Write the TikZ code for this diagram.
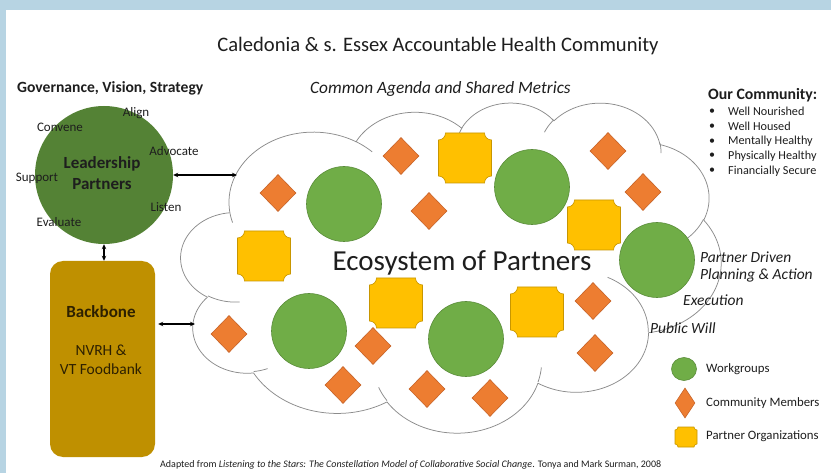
\documentclass[tikz,border=0pt]{standalone}
\usepackage{fontspec}
\setmainfont{Carlito}
\usetikzlibrary{arrows.meta,shapes.geometric}
\definecolor{bandblue}{RGB}{183,212,227}
\definecolor{leadgreen}{RGB}{84,130,53}
\definecolor{wggreen}{RGB}{112,173,71}
\definecolor{wgedge}{RGB}{90,140,58}
\definecolor{cmorange}{RGB}{237,125,49}
\definecolor{cmedge}{RGB}{200,100,40}
\definecolor{orgyellow}{RGB}{255,192,0}
\definecolor{orgedge}{RGB}{200,150,0}
\definecolor{bbgold}{RGB}{191,144,0}
\definecolor{cloudgray}{RGB}{140,140,140}
\definecolor{textdark}{RGB}{30,30,30}
\definecolor{bbtext}{RGB}{45,32,0}
\newcommand\fs[2]{\fontsize{#1}{#2}\selectfont}
% cloud frame (pixels) and path-space scale (path space 43.2 x 43.2)
\newcommand\cOX{181}\newcommand\cOY{102}
\newcommand\cSX{12.5}\newcommand\cSY{7.639}
\newcommand\CloudStart[2]{\pgfmathsetmacro\cPX{#1}\pgfmathsetmacro\cPY{#2}}
\newcommand\CloudArc[4]{%
  \pgfmathsetmacro\cA{#1}%
  \pgfmathsetmacro\cB{#2}%
  \pgfmathsetmacro\tS{atan2(#1*sin(#3),#2*cos(#3))}%
  \pgfmathsetmacro\tE{atan2(#1*sin(#3+#4),#2*cos(#3+#4))}%
  \pgfmathsetmacro\tD{\tE-\tS}%
  \pgfmathsetmacro\tD{\tD<0 ? \tD+360 : \tD}%
  \pgfmathsetmacro\tF{\tS+\tD}%
  \pgfmathsetmacro\cCX{\cPX-\cA*cos(\tS)}%
  \pgfmathsetmacro\cCY{\cPY-\cB*sin(\tS)}%
  \draw[cloudline] plot[domain=\tS:\tF,samples=40,variable=\cv]
    ({\cOX+\cSX*(\cCX+\cA*cos(\cv))},{\cOY+\cSY*(\cCY+\cB*sin(\cv))});
  \pgfmathsetmacro\cPX{\cCX+\cA*cos(\tF)}%
  \pgfmathsetmacro\cPY{\cCY+\cB*sin(\tF)}%
}
% plaque (rectangle with concave corners): cx cy w h r
\newcommand\Plaque[5]{%
  \pgfmathsetmacro\pxa{#1-#3/2}\pgfmathsetmacro\pxb{#1+#3/2}%
  \pgfmathsetmacro\pya{#2-#4/2}\pgfmathsetmacro\pyb{#2+#4/2}%
  \def\pr{#5}%
  \draw[orgshape] (\pxa+\pr,\pya) -- (\pxb-\pr,\pya)
    .. controls (\pxb-\pr,\pya+0.552*\pr) and (\pxb-0.552*\pr,\pya+\pr) .. (\pxb,\pya+\pr)
    -- (\pxb,\pyb-\pr)
    .. controls (\pxb-0.552*\pr,\pyb-\pr) and (\pxb-\pr,\pyb-0.552*\pr) .. (\pxb-\pr,\pyb)
    -- (\pxa+\pr,\pyb)
    .. controls (\pxa+\pr,\pyb-0.552*\pr) and (\pxa+0.552*\pr,\pyb-\pr) .. (\pxa,\pyb-\pr)
    -- (\pxa,\pya+\pr)
    .. controls (\pxa+0.552*\pr,\pya+\pr) and (\pxa+\pr,\pya+0.552*\pr) .. cycle;
}
\begin{document}
\begin{tikzpicture}[x=1pt,y=-1pt,
  cloudline/.style={draw=cloudgray,line width=0.75pt},
  wgshape/.style={circle,fill=wggreen,draw=wgedge,line width=0.6pt,inner sep=0pt,minimum size=75pt},
  cmshape/.style={diamond,fill=cmorange,draw=cmedge,line width=0.6pt,inner sep=0pt,minimum width=36pt,minimum height=37pt},
  orgshape/.style={fill=orgyellow,draw=orgedge,line width=0.6pt},
  connarrow/.style={{Stealth[length=5pt,width=4.5pt]}-{Stealth[length=5pt,width=4.5pt]},line width=1.3pt,black},
  lbl/.style={inner sep=0pt,text=textdark},
  rlbl/.style={lbl,anchor=west,font=\fs{15.5}{18}\itshape},
]
\useasboundingbox (0,0) rectangle (831,473);
\fill[white] (0,0) rectangle (831,473);
\fill[bandblue] (0,0) rectangle (831,10);
\fill[bandblue] (0,0) rectangle (6,473);

% ---------- cloud outline ----------
\CloudStart{3.9}{14.37}
\CloudArc{6.753}{9.190}{-190.4875}{123.7805}
\CloudArc{5.333}{7.267}{-144.1024}{89.9452}
\CloudArc{4.365}{5.945}{-145.8079}{99.7230}
\CloudArc{4.857}{6.595}{-130.9861}{117.2417}
\CloudArc{5.333}{7.273}{-78.7089}{109.0269}
\CloudArc{6.775}{9.220}{-46.2673}{130.2690}
\CloudArc{5.785}{7.867}{0.6250}{114.0333}
\CloudArc{6.752}{9.215}{22.4516}{115.1726}
\CloudArc{7.720}{10.543}{66.2426}{75.7110}
\CloudArc{4.360}{5.918}{-274.9421}{146.7356}
\CloudArc{4.345}{5.945}{-246.8285}{152.5189}
% inner arcs
\CloudStart{4.693}{26.177}\CloudArc{4.345}{5.945}{86.7420}{26.4295}
\CloudStart{6.928}{34.899}\CloudArc{4.360}{5.918}{73.6105}{11.4475}
\CloudStart{16.478}{39.090}\CloudArc{6.752}{9.215}{137.6242}{14.0811}
\CloudStart{28.827}{34.751}\CloudArc{6.752}{9.215}{6.4533}{15.9984}
\CloudStart{34.129}{22.954}\CloudArc{5.785}{7.867}{-70.2924}{70.9174}
\CloudStart{41.798}{15.354}\CloudArc{5.333}{7.273}{30.3180}{27.7515}
\CloudStart{38.324}{5.426}\CloudArc{4.857}{6.595}{-13.7443}{14.8589}
\CloudStart{29.078}{3.952}\CloudArc{4.857}{6.595}{-149.1815}{18.1954}
\CloudStart{22.141}{4.720}\CloudArc{4.365}{5.945}{-163.4943}{17.6864}
\CloudStart{14.000}{5.192}\CloudArc{6.753}{9.190}{-66.7070}{12.3194}
\CloudStart{4.127}{15.789}\CloudArc{6.753}{9.190}{157.6544}{11.8582}

% ---------- workgroups ----------
\node[wgshape] (w1) at (344,204) {};
\node[wgshape] (w2) at (532,187) {};
\node[wgshape] (w3) at (657,260) {};
\node[wgshape] (w4) at (309,331) {};
\node[wgshape] (w5) at (466,339) {};

% ---------- community members ----------
\node[cmshape] (c1) at (278,193) {};
\node[cmshape] (c2) at (401,156) {};
\node[cmshape] (c3) at (429,211) {};
\node[cmshape] (c4) at (608,151) {};
\node[cmshape] (c5) at (643,192) {};
\node[cmshape] (c6) at (229,334) {};
\node[cmshape] (c7) at (373,346) {};
\node[cmshape] (c8) at (343,385) {};
\node[cmshape] (c9) at (427,389) {};
\node[cmshape] (c10) at (490,398) {};
\node[cmshape] (c11) at (593,301) {};
\node[cmshape] (c12) at (595,353) {};

% ---------- partner organizations ----------
\Plaque{465}{158}{53}{50}{7}
\Plaque{264}{256}{53}{50}{7}
\Plaque{594}{225}{53}{50}{7}
\Plaque{396}{303}{53}{50}{7}
\Plaque{537}{312}{53}{50}{7}

\node[lbl,font=\fs{29}{33}] (eco) at (462,263) {Ecosystem of Partners};

% ---------- leadership ----------
\node[circle,fill=leadgreen,inner sep=0pt,minimum size=138pt] (lead) at (104,175) {};
\node[lbl,align=center,font=\fs{17}{21}\bfseries] (leadtxt) at (102,173) {Leadership\\Partners};
\begin{scope}[every node/.style={lbl,font=\fs{13}{15}}]
\node (align) at (136,113) {Align};
\node (convene) at (60,127) {Convene};
\node (advocate) at (174,151) {Advocate};
\node (support) at (37,178) {Support};
\node (listen) at (166,207) {Listen};
\node (evaluate) at (59,222) {Evaluate};
\end{scope}

% ---------- backbone ----------
\node[rectangle,rounded corners=13pt,fill=bbgold,inner sep=0pt,minimum width=105pt,minimum height=196pt] (bb) at (102.5,359) {};
\node[inner sep=0pt,text=bbtext,font=\fs{17}{20}\bfseries] (bbt) at (101,312) {Backbone};
\node[inner sep=0pt,text=bbtext,align=center,font=\fs{15.5}{18.5}] (bbn) at (101,360) {NVRH \&\\VT Foodbank};

% ---------- connectors ----------
\coordinate (cloudA) at (237,175);
\coordinate (cloudB) at (195,324);
\coordinate (bbE) at ([xshift=3pt]bb.east);
\draw[connarrow] (lead.east) -- (cloudA);
\draw[connarrow] (lead.south) -- (lead.south |- bb.north);
\draw[connarrow] (bbE |- cloudB) -- (cloudB);

% ---------- texts ----------
\node[lbl,font=\fs{20.6}{24}] (title) at (438,46) {Caledonia \& s. Essex Accountable Health Community};
\node[lbl,anchor=west,font=\fs{15.6}{18}\bfseries] (gov) at (17,88) {Governance, Vision, Strategy};
\node[lbl,anchor=west,font=\fs{17.3}{20}\itshape] (agenda) at (310,89) {Common Agenda and Shared Metrics};
\node[lbl,anchor=west,font=\fs{15.8}{18}\bfseries] (ourc) at (708,95) {Our Community:};
\foreach \t [count=\i] in {Well Nourished,Well Housed,Mentally Healthy,Physically Healthy,Financially Secure}{
  \node[lbl,font=\fs{12}{14}] (bul\i) at (712,97+14.8*\i) {•};
  \node[lbl,anchor=west,font=\fs{12.2}{14}] (bt\i) at (728,97+14.8*\i) {\t};
}
\node[rlbl] (pd) at (700,257) {Partner Driven};
\node[rlbl] (pa) at (700,275) {Planning \& Action};
\node[rlbl] (ex) at (683,300) {Execution};
\node[rlbl] (pw) at (650,328) {Public Will};

% ---------- legend ----------
\node[ellipse,fill=wggreen,draw=wgedge,line width=0.6pt,inner sep=0pt,minimum width=25pt,minimum height=23pt] (lgw) at (684,369) {};
\node[cmshape,minimum width=20pt,minimum height=30pt] (lgc) at (685,403) {};
\Plaque{686}{437}{22}{20}{3}
\begin{scope}[every node/.style={lbl,anchor=west,font=\fs{12.8}{15}}]
\node (lw) at (706,369) {Workgroups};
\node (lc) at (706,403) {Community Members};
\node (lo) at (706,436) {Partner Organizations};
\end{scope}

\node[lbl,anchor=west,font=\fs{10}{12}] (cap) at (160,465) {Adapted from \textit{Listening to the Stars: The Constellation Model of Collaborative Social Change}. Tonya and Mark Surman, 2008};
\end{tikzpicture}
\end{document}
